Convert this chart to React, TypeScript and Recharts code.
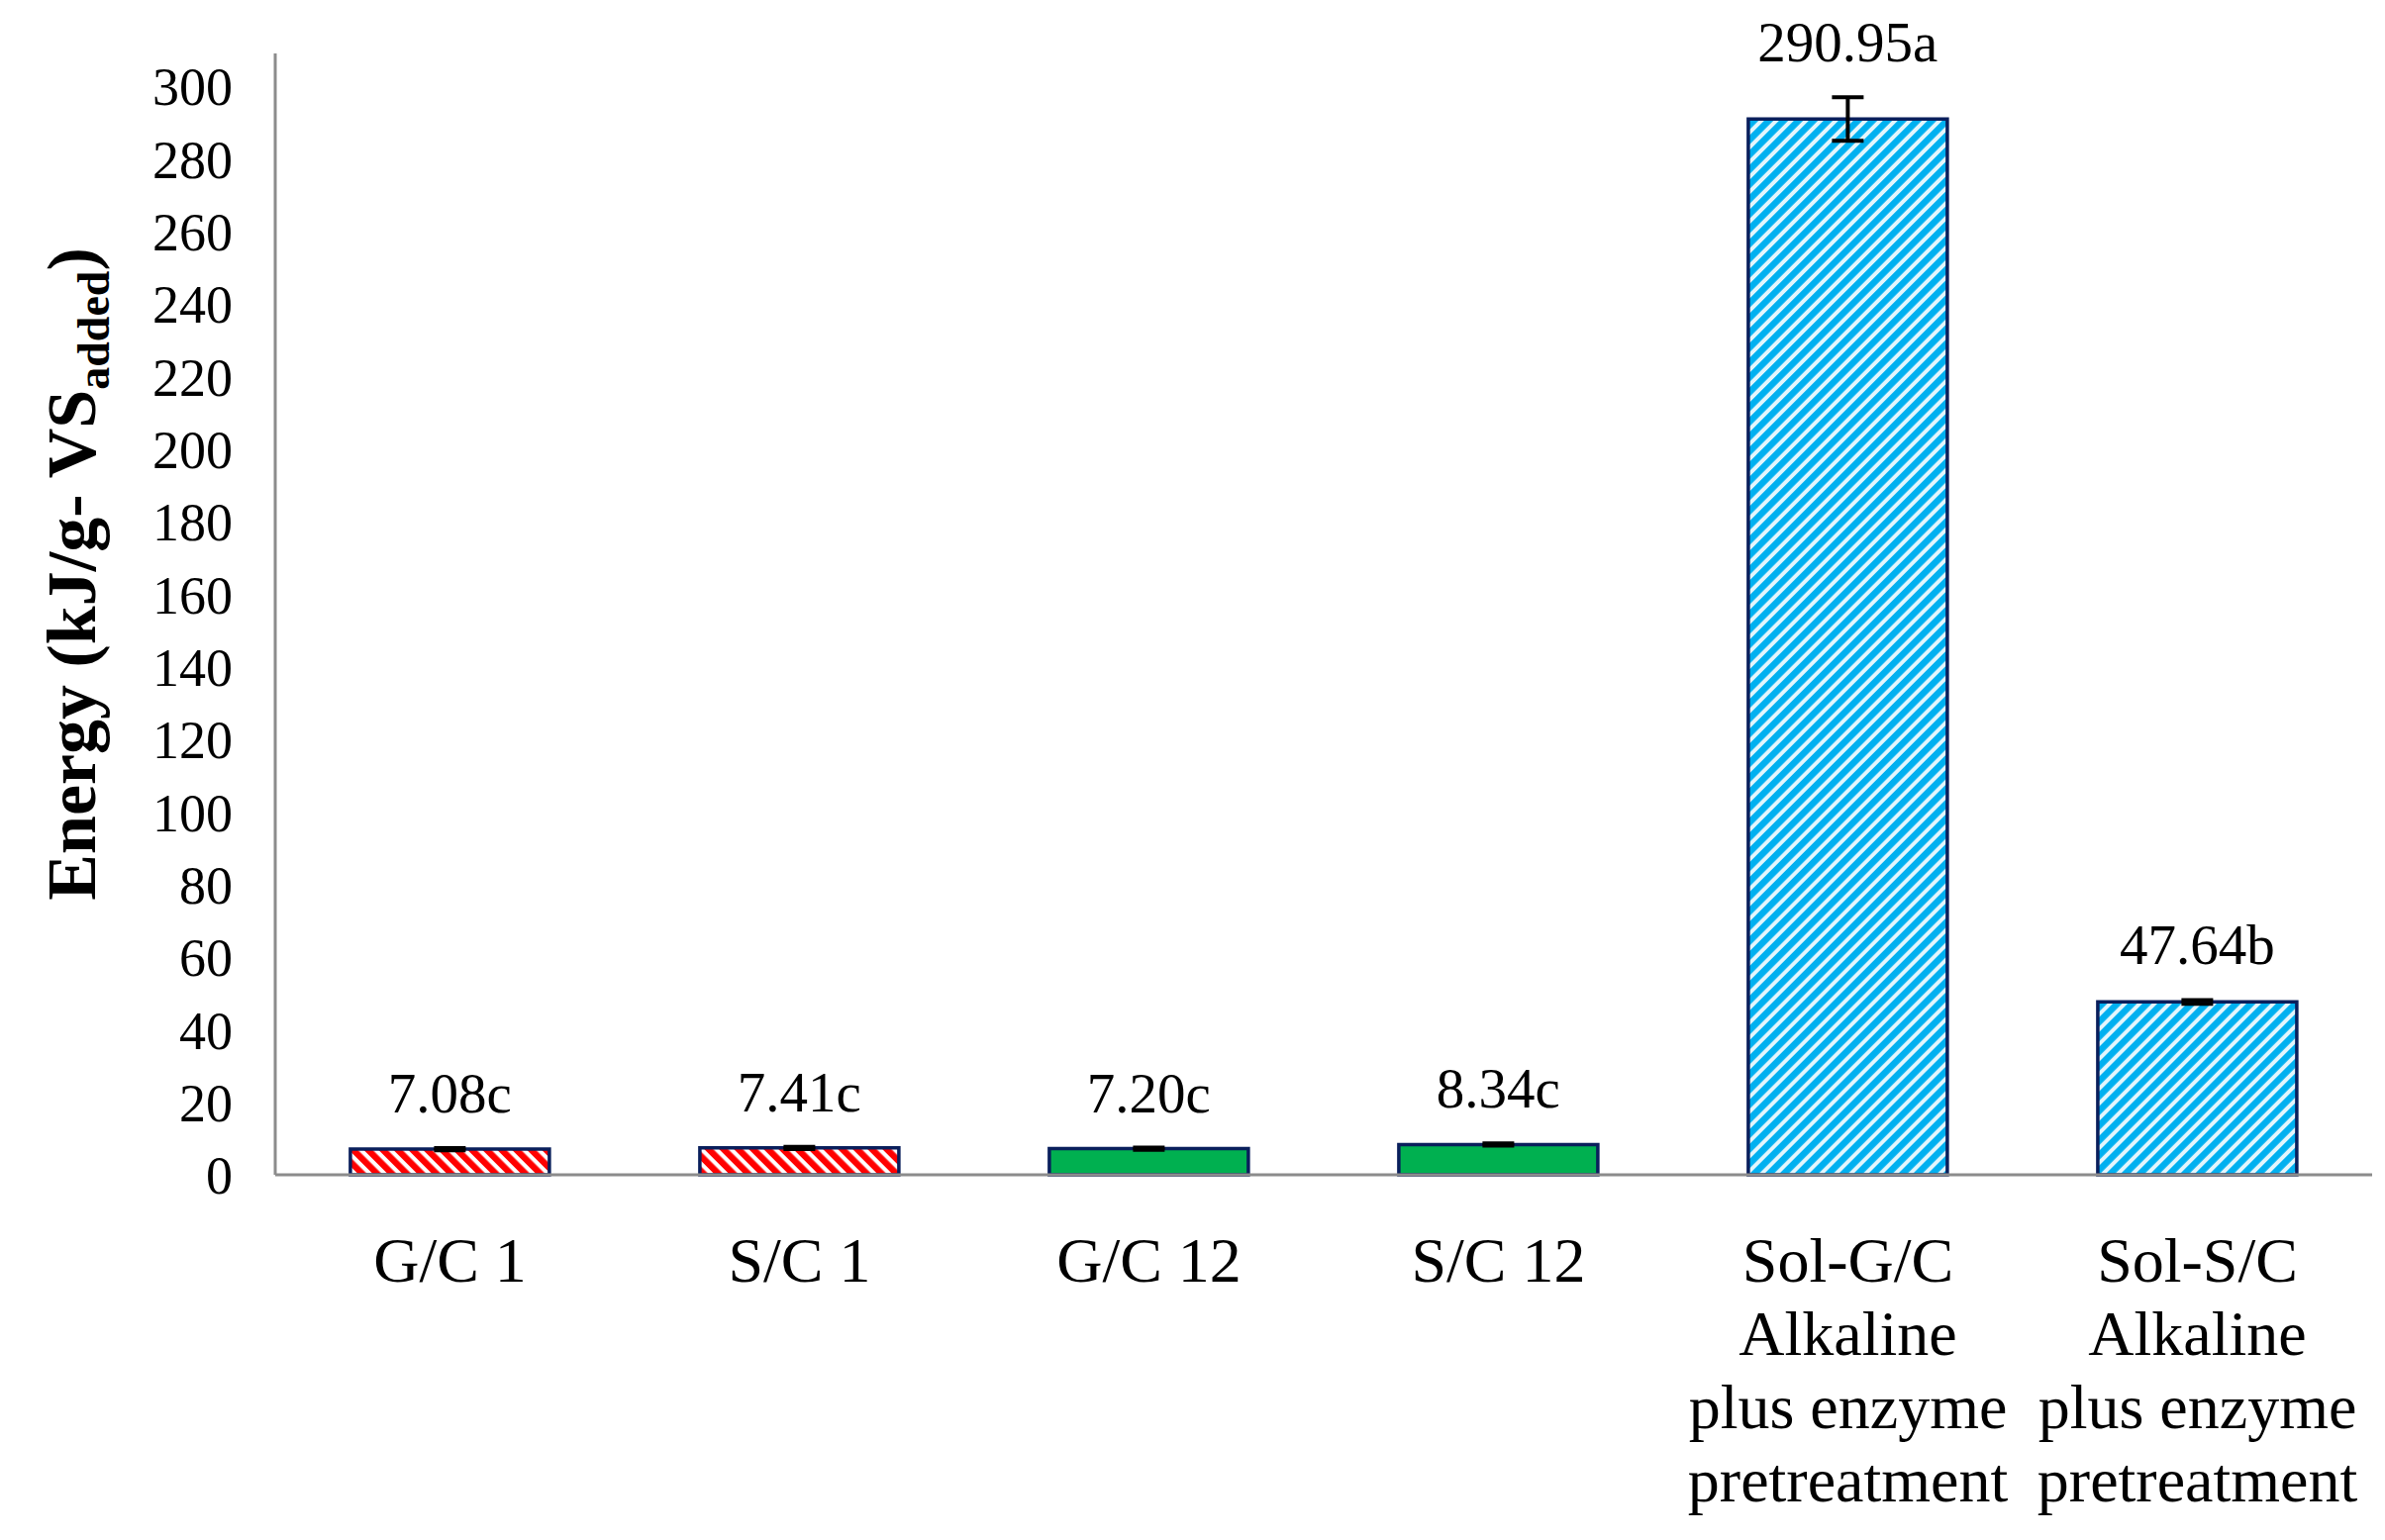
import React from "react";
import {
  BarChart,
  Bar,
  XAxis,
  YAxis,
  Cell,
  ErrorBar,
  LabelList,
} from "recharts";

// categories (line breaks = wrapped axis labels)
const categories = [
  "G/C 1",
  "S/C 1",
  "G/C 12",
  "S/C 12",
  "Sol-G/C\nAlkaline\nplus enzyme\npretreatment",
  "Sol-S/C\nAlkaline\nplus enzyme\npretreatment",
];
const energy = [7.08, 7.41, 7.2, 8.34, 290.95, 47.64];
const energyErr = [0.3, 0.3, 0.3, 0.3, 6, 0.5];
const letters = ["c", "c", "c", "c", "a", "b"];
const fills = ["url(#hatchRed)", "url(#hatchRed)", "#00B050", "#00B050", "url(#hatchBlue)", "url(#hatchBlue)"];
const yTicks = [0, 20, 40, 60, 80, 100, 120, 140, 160, 180, 200, 220, 240, 260, 280, 300];

const data = categories.map((name, i) => ({
  name,
  value: energy[i],
  err: energyErr[i],
  letter: letters[i],
}));

const W = 2409;
const H = 1556;
const TOP = 54;
const AXIS_Y = 1187;
const Y_MAX = 309;
const PX_PER_UNIT = (AXIS_Y - TOP) / Y_MAX;
const FONT = "'Liberation Serif', 'Times New Roman', serif";
const NAVY = "#0A1F5C";

function CategoryTick(props: any) {
  const { x, y, payload } = props;
  const lines = String(payload.value).split("\n");
  return (
    <text x={x} y={y + 106} textAnchor="middle" fontFamily={FONT} fontSize={64} fill="#000">
      {lines.map((ln, i) => (
        <tspan key={i} x={x} dy={i === 0 ? 0 : 74}>
          {ln}
        </tspan>
      ))}
    </text>
  );
}

const renderValueLabel = (props: any) => {
  const { x, y, width, index } = props;
  const d = data[index];
  const errTop = Number(y) - d.err * PX_PER_UNIT;
  return (
    <text
      x={Number(x) + Number(width) / 2}
      y={errTop - 36}
      textAnchor="middle"
      fontFamily={FONT}
      fontSize={57}
      fill="#000"
    >
      {`${d.value.toFixed(2)}${d.letter}`}
    </text>
  );
};

const renderYTitle = () => (
  <text
    x={96}
    y={580}
    transform="rotate(-90 96 580)"
    textAnchor="middle"
    fontFamily={FONT}
    fontSize={70}
    fontWeight="bold"
    fill="#000"
  >
    Energy (kJ/g- VS
    <tspan dy={14} fontSize={46}>
      added
    </tspan>
    <tspan dy={-14}>)</tspan>
  </text>
);

export default function App() {
  return (
    <div style={{ width: W, height: H, background: "#fff" }}>
      <style>{`body{margin:0;background:#fff}`}</style>
      <svg width={0} height={0} style={{ position: "absolute" }}>
        <defs>
          <pattern id="hatchRed" patternUnits="userSpaceOnUse" width={10.6} height={10.6} patternTransform="rotate(-45)">
            <rect width={10.6} height={10.6} fill="#fff" />
            <rect width={6.4} height={10.6} fill="#FF0000" />
          </pattern>
          <pattern id="hatchBlue" patternUnits="userSpaceOnUse" width={10.6} height={10.6} patternTransform="rotate(45)">
            <rect width={10.6} height={10.6} fill="#E3F6FD" />
            <rect width={6.6} height={10.6} fill="#00B0F0" />
          </pattern>
        </defs>
      </svg>
      <BarChart
        width={W}
        height={H}
        data={data}
        margin={{ top: TOP, right: 13, bottom: 0, left: 0 }}
        barCategoryGap="21.5%"
      >
        <XAxis
          dataKey="name"
          height={H - AXIS_Y}
          interval={0}
          tickLine={false}
          tickSize={0}
          tick={<CategoryTick />}
          axisLine={{ stroke: "#8C8C8C", strokeWidth: 3 }}
        />
        <YAxis
          width={278}
          domain={[0, Y_MAX]}
          ticks={yTicks}
          allowDecimals={false}
          tickLine={false}
          tickSize={0}
          tickMargin={43}
          axisLine={{ stroke: "#8C8C8C", strokeWidth: 3 }}
          tick={{ fontFamily: FONT, fontSize: 54, fill: "#000" }}
          label={{ content: renderYTitle }}
        />
        <Bar dataKey="value" stroke={NAVY} strokeWidth={3.5} isAnimationActive={false}>
          {data.map((d, i) => (
            <Cell key={d.name} fill={fills[i]} />
          ))}
          <ErrorBar dataKey="err" width={16} stroke="#000" strokeWidth={4} direction="y" />
          <LabelList dataKey="value" content={renderValueLabel} />
        </Bar>
      </BarChart>
    </div>
  );
}
